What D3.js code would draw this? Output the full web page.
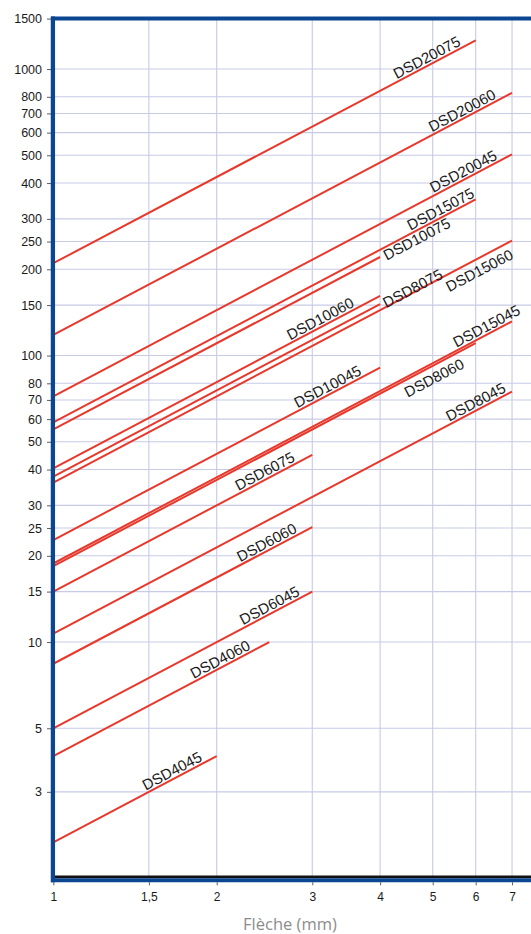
<!DOCTYPE html>
<html>
<head>
<meta charset="utf-8">
<script src="https://cdn.jsdelivr.net/npm/d3@7"></script>
<style>
  html, body { margin: 0; padding: 0; background: #fff; }
  svg { display: block; }
</style>
</head>
<body>
<svg id="chart" width="531" height="934"></svg>
<script>
// ---- data ----
const springs = ["DSD20075","DSD20060","DSD20045","DSD15075","DSD10075","DSD10060","DSD8075","DSD15060","DSD15045","DSD10045","DSD8060","DSD8045","DSD6075","DSD6060","DSD6045","DSD4060","DSD4045"];
const rate    = [210, 118, 72, 58.5, 55.2, 40.4, 37.8, 36, 18.8, 22.7, 18.4, 10.7, 15, 8.4, 5, 4, 2];   // value at 1 mm
const maxDefl = [6, 7, 7, 6, 4, 4, 4, 7, 7, 4, 6, 7, 3, 3, 3, 2.5, 2];                              // end of line (mm)
const labelAt = [4.95, 5.75, 5.78, 5.25, 4.66, 3.15, 4.58, 5.96, 6.38, 3.25, 4.92, 6.09, 2.49, 2.51, 2.54, 2.06, 1.68];
const labelSide = ["above","above","above","above","on","above","on","below","above","above","below","above","above","above","above","above","above"];

const xTicks = [1, 1.5, 2, 3, 4, 5, 6, 7];
const xTickLabels = ["1", "1,5", "2", "3", "4", "5", "6", "7"];
const yTicks = [1500, 1000, 800, 700, 600, 500, 400, 300, 250, 200, 150, 100, 80, 70, 60, 50, 40, 30, 25, 20, 15, 10, 5, 3];
const xTitle = "Flèche (mm)";

// ---- layout ----
const svg = d3.select("#chart");
const W = 531;
const x0 = 53.3, decadeX = 542.8;
const x = d3.scaleLog().domain([1, 10]).range([x0, x0 + decadeX]);
const y = d3.scaleLog().domain([1.5, 1500]).range([878.1, 18.6]);
const blue = "#0b4690";
const red = "#e8382c";
const grid = "#c7cbe6";

// grid
svg.append("g").selectAll("line.hg")
  .data(yTicks.filter(v => v < 1500))
  .join("line")
  .attr("x1", x(1)).attr("x2", W)
  .attr("y1", d => y(d)).attr("y2", d => y(d))
  .attr("stroke", grid).attr("stroke-width", 1.1);
svg.append("g").selectAll("line.vg")
  .data(xTicks.filter(v => v > 1))
  .join("line")
  .attr("x1", d => x(d)).attr("x2", d => x(d))
  .attr("y1", y(1500)).attr("y2", y(1.5))
  .attr("stroke", grid).attr("stroke-width", 1.1);

// lines
const idx = d3.range(springs.length);
svg.append("g").selectAll("line.spring")
  .data(idx)
  .join("line")
  .attr("x1", x(1)).attr("y1", i => y(rate[i]))
  .attr("x2", i => x(maxDefl[i])).attr("y2", i => y(rate[i] * maxDefl[i]))
  .attr("stroke", red).attr("stroke-width", 2).attr("stroke-linecap", "butt");

// labels
const angle = Math.atan2(y(1) - y(10), x(10) - x(1));
const angDeg = angle * 180 / Math.PI;
const perp = { above: 8, on: -1, below: -11 };
svg.append("g").selectAll("text.lab")
  .data(idx)
  .join("text")
  .attr("transform", i => `translate(${x(labelAt[i])},${y(rate[i] * labelAt[i])}) rotate(${-angDeg})`)
  .attr("y", i => -perp[labelSide[i]])
  .attr("dominant-baseline", "central")
  .attr("text-anchor", "middle")
  .attr("font-family", "Liberation Sans, Arial, sans-serif")
  .attr("font-size", 15)
  .attr("fill", "#1a1a1a")
  .text(i => springs[i]);

// axes frame
svg.append("line").attr("x1", 51).attr("x2", W).attr("y1", y(1500)).attr("y2", y(1500))
  .attr("stroke", blue).attr("stroke-width", 4);
svg.append("line").attr("x1", 51).attr("x2", W).attr("y1", y(1.5) - 1.2).attr("y2", y(1.5) - 1.2)
  .attr("stroke", "#111").attr("stroke-width", 2.6);
svg.append("line").attr("x1", 51).attr("x2", W).attr("y1", y(1.5) + 2.2).attr("y2", y(1.5) + 2.2)
  .attr("stroke", blue).attr("stroke-width", 4);
svg.append("line").attr("x1", 52.9).attr("x2", 52.9).attr("y1", y(1500) - 2).attr("y2", y(1.5) + 4.2)
  .attr("stroke", blue).attr("stroke-width", 4.3);

// y axis
const yAxis = d3.axisLeft(y).tickValues(yTicks).tickFormat(d3.format("d")).tickSizeInner(4).tickSizeOuter(0).tickPadding(5);
const gy = svg.append("g").attr("transform", "translate(51,0)").call(yAxis);
gy.select(".domain").remove();
gy.selectAll(".tick line").attr("stroke", "#333").attr("stroke-width", 0.8);
gy.selectAll(".tick text").attr("font-family", "Liberation Sans, Arial, sans-serif").attr("font-size", 12.5).attr("fill", "#1a1a1a");

// x axis
const xAxis = d3.axisBottom(x).tickValues(xTicks).tickFormat((d, i) => xTickLabels[i]).tickSizeInner(3).tickSizeOuter(0).tickPadding(7);
const gx = svg.append("g").attr("transform", `translate(0,${y(1.5) + 4.2})`).call(xAxis);
gx.select(".domain").remove();
gx.selectAll(".tick line").attr("stroke", "#333").attr("stroke-width", 0.8);
gx.selectAll(".tick text").attr("font-family", "Liberation Sans, Arial, sans-serif").attr("font-size", 12).attr("fill", "#1a1a1a");

// x title
svg.append("text")
  .attr("x", 290).attr("y", 930)
  .attr("text-anchor", "middle")
  .attr("font-family", "Open Sans, sans-serif")
  .attr("font-size", 16.5)
  .attr("fill", "#8c8c8c")
  .text(xTitle);
</script>
</body>
</html>
